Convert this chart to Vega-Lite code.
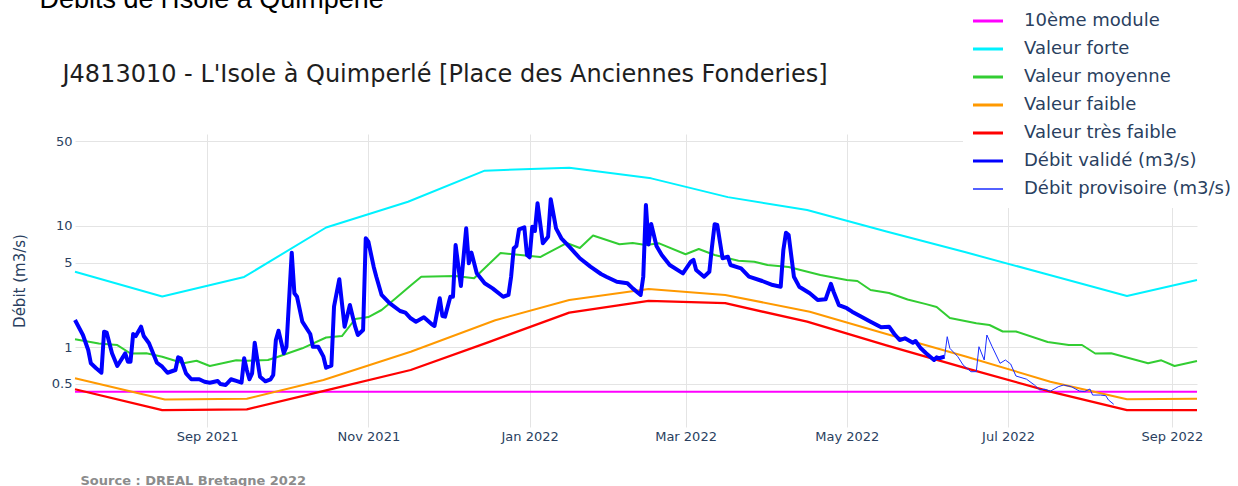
{
  "$schema": "https://vega.github.io/schema/vega-lite/v6.json",
  "width": 1122,
  "height": 293,
  "autosize": {"type": "none"},
  "padding": {"left": 75, "top": 134, "right": 41, "bottom": 59},
  "background": "white",
  "config": {"view": {"stroke": null}, "font": "DejaVu Sans"},
  "datasets": {
    "refs": [
      {"d": "2021-07-13", "v": 0.43, "s": "10ème module"},
      {"d": "2022-09-10T12:00:00Z", "v": 0.43, "s": "10ème module"},
      {"d": "2021-07-13", "v": 4.2, "s": "Valeur forte"},
      {"d": "2021-08-15", "v": 2.62, "s": "Valeur forte"},
      {"d": "2021-09-15", "v": 3.8, "s": "Valeur forte"},
      {"d": "2021-10-16", "v": 9.72, "s": "Valeur forte"},
      {"d": "2021-11-16", "v": 15.86, "s": "Valeur forte"},
      {"d": "2021-12-15", "v": 28.6, "s": "Valeur forte"},
      {"d": "2022-01-16", "v": 30.2, "s": "Valeur forte"},
      {"d": "2022-02-16", "v": 24.7, "s": "Valeur forte"},
      {"d": "2022-03-17", "v": 17.3, "s": "Valeur forte"},
      {"d": "2022-04-16", "v": 13.55, "s": "Valeur forte"},
      {"d": "2022-05-16", "v": 9.01, "s": "Valeur forte"},
      {"d": "2022-06-15", "v": 6.07, "s": "Valeur forte"},
      {"d": "2022-07-15", "v": 4.04, "s": "Valeur forte"},
      {"d": "2022-08-15", "v": 2.65, "s": "Valeur forte"},
      {"d": "2022-09-10T12:00:00Z", "v": 3.59, "s": "Valeur forte"},
      {"d": "2021-07-13", "v": 1.164, "s": "Valeur moyenne"},
      {"d": "2021-07-22", "v": 1.075, "s": "Valeur moyenne"},
      {"d": "2021-07-29", "v": 1.044, "s": "Valeur moyenne"},
      {"d": "2021-08-03", "v": 0.889, "s": "Valeur moyenne"},
      {"d": "2021-08-09", "v": 0.892, "s": "Valeur moyenne"},
      {"d": "2021-08-15", "v": 0.837, "s": "Valeur moyenne"},
      {"d": "2021-08-23", "v": 0.738, "s": "Valeur moyenne"},
      {"d": "2021-08-28", "v": 0.775, "s": "Valeur moyenne"},
      {"d": "2021-09-02", "v": 0.701, "s": "Valeur moyenne"},
      {"d": "2021-09-12", "v": 0.783, "s": "Valeur moyenne"},
      {"d": "2021-09-16", "v": 0.774, "s": "Valeur moyenne"},
      {"d": "2021-09-24", "v": 0.786, "s": "Valeur moyenne"},
      {"d": "2021-09-27", "v": 0.824, "s": "Valeur moyenne"},
      {"d": "2021-10-07", "v": 0.981, "s": "Valeur moyenne"},
      {"d": "2021-10-16", "v": 1.205, "s": "Valeur moyenne"},
      {"d": "2021-10-22", "v": 1.239, "s": "Valeur moyenne"},
      {"d": "2021-10-27", "v": 1.711, "s": "Valeur moyenne"},
      {"d": "2021-11-01", "v": 1.777, "s": "Valeur moyenne"},
      {"d": "2021-11-06", "v": 2.03, "s": "Valeur moyenne"},
      {"d": "2021-11-11", "v": 2.5, "s": "Valeur moyenne"},
      {"d": "2021-11-17", "v": 3.23, "s": "Valeur moyenne"},
      {"d": "2021-11-21", "v": 3.82, "s": "Valeur moyenne"},
      {"d": "2021-12-04", "v": 3.87, "s": "Valeur moyenne"},
      {"d": "2021-12-11", "v": 3.71, "s": "Valeur moyenne"},
      {"d": "2021-12-21", "v": 5.99, "s": "Valeur moyenne"},
      {"d": "2022-01-05", "v": 5.55, "s": "Valeur moyenne"},
      {"d": "2022-01-15", "v": 7.24, "s": "Valeur moyenne"},
      {"d": "2022-01-20", "v": 6.59, "s": "Valeur moyenne"},
      {"d": "2022-01-25", "v": 8.35, "s": "Valeur moyenne"},
      {"d": "2022-02-04", "v": 7.07, "s": "Valeur moyenne"},
      {"d": "2022-02-09", "v": 7.24, "s": "Valeur moyenne"},
      {"d": "2022-02-14", "v": 6.97, "s": "Valeur moyenne"},
      {"d": "2022-02-19", "v": 7.2, "s": "Valeur moyenne"},
      {"d": "2022-03-01", "v": 5.85, "s": "Valeur moyenne"},
      {"d": "2022-03-06", "v": 6.46, "s": "Valeur moyenne"},
      {"d": "2022-03-12", "v": 5.77, "s": "Valeur moyenne"},
      {"d": "2022-03-21", "v": 5.17, "s": "Valeur moyenne"},
      {"d": "2022-03-27", "v": 5.08, "s": "Valeur moyenne"},
      {"d": "2022-04-01", "v": 4.77, "s": "Valeur moyenne"},
      {"d": "2022-04-09", "v": 4.59, "s": "Valeur moyenne"},
      {"d": "2022-04-21", "v": 3.94, "s": "Valeur moyenne"},
      {"d": "2022-05-01", "v": 3.59, "s": "Valeur moyenne"},
      {"d": "2022-05-05", "v": 3.52, "s": "Valeur moyenne"},
      {"d": "2022-05-10", "v": 2.97, "s": "Valeur moyenne"},
      {"d": "2022-05-17", "v": 2.8, "s": "Valeur moyenne"},
      {"d": "2022-05-24", "v": 2.48, "s": "Valeur moyenne"},
      {"d": "2022-05-31", "v": 2.27, "s": "Valeur moyenne"},
      {"d": "2022-06-04", "v": 2.15, "s": "Valeur moyenne"},
      {"d": "2022-06-09", "v": 1.744, "s": "Valeur moyenne"},
      {"d": "2022-06-19", "v": 1.577, "s": "Valeur moyenne"},
      {"d": "2022-06-24", "v": 1.527, "s": "Valeur moyenne"},
      {"d": "2022-06-29", "v": 1.35, "s": "Valeur moyenne"},
      {"d": "2022-07-04", "v": 1.35, "s": "Valeur moyenne"},
      {"d": "2022-07-16", "v": 1.106, "s": "Valeur moyenne"},
      {"d": "2022-07-24", "v": 1.045, "s": "Valeur moyenne"},
      {"d": "2022-07-29", "v": 1.045, "s": "Valeur moyenne"},
      {"d": "2022-08-03", "v": 0.889, "s": "Valeur moyenne"},
      {"d": "2022-08-09", "v": 0.892, "s": "Valeur moyenne"},
      {"d": "2022-08-23", "v": 0.738, "s": "Valeur moyenne"},
      {"d": "2022-08-28", "v": 0.781, "s": "Valeur moyenne"},
      {"d": "2022-09-02", "v": 0.701, "s": "Valeur moyenne"},
      {"d": "2022-09-10T12:00:00Z", "v": 0.771, "s": "Valeur moyenne"},
      {"d": "2021-07-13", "v": 0.555, "s": "Valeur faible"},
      {"d": "2021-08-16", "v": 0.371, "s": "Valeur faible"},
      {"d": "2021-09-16", "v": 0.376, "s": "Valeur faible"},
      {"d": "2021-10-15", "v": 0.538, "s": "Valeur faible"},
      {"d": "2021-11-17", "v": 0.92, "s": "Valeur faible"},
      {"d": "2021-12-19", "v": 1.67, "s": "Valeur faible"},
      {"d": "2022-01-16", "v": 2.455, "s": "Valeur faible"},
      {"d": "2022-02-15", "v": 3.02, "s": "Valeur faible"},
      {"d": "2022-03-16", "v": 2.7, "s": "Valeur faible"},
      {"d": "2022-04-17", "v": 1.966, "s": "Valeur faible"},
      {"d": "2022-05-16", "v": 1.287, "s": "Valeur faible"},
      {"d": "2022-06-15", "v": 0.841, "s": "Valeur faible"},
      {"d": "2022-07-17", "v": 0.52, "s": "Valeur faible"},
      {"d": "2022-08-15", "v": 0.373, "s": "Valeur faible"},
      {"d": "2022-09-10T12:00:00Z", "v": 0.377, "s": "Valeur faible"},
      {"d": "2021-07-13", "v": 0.451, "s": "Valeur très faible"},
      {"d": "2021-08-15", "v": 0.304, "s": "Valeur très faible"},
      {"d": "2021-09-16", "v": 0.308, "s": "Valeur très faible"},
      {"d": "2021-10-16", "v": 0.442, "s": "Valeur très faible"},
      {"d": "2021-11-17", "v": 0.65, "s": "Valeur très faible"},
      {"d": "2021-12-16", "v": 1.093, "s": "Valeur très faible"},
      {"d": "2022-01-16", "v": 1.929, "s": "Valeur très faible"},
      {"d": "2022-02-15", "v": 2.41, "s": "Valeur très faible"},
      {"d": "2022-03-16", "v": 2.31, "s": "Valeur très faible"},
      {"d": "2022-04-16", "v": 1.626, "s": "Valeur très faible"},
      {"d": "2022-05-16", "v": 1.039, "s": "Valeur très faible"},
      {"d": "2022-06-15", "v": 0.674, "s": "Valeur très faible"},
      {"d": "2022-07-17", "v": 0.431, "s": "Valeur très faible"},
      {"d": "2022-08-15", "v": 0.304, "s": "Valeur très faible"},
      {"d": "2022-09-10T12:00:00Z", "v": 0.304, "s": "Valeur très faible"}
    ],
    "flows": [
      {"d": "2021-07-13", "v": 1.679, "s": "Débit validé (m3/s)"},
      {"d": "2021-07-16", "v": 1.263, "s": "Débit validé (m3/s)"},
      {"d": "2021-07-18", "v": 0.95, "s": "Débit validé (m3/s)"},
      {"d": "2021-07-19", "v": 0.738, "s": "Débit validé (m3/s)"},
      {"d": "2021-07-21", "v": 0.671, "s": "Débit validé (m3/s)"},
      {"d": "2021-07-23", "v": 0.617, "s": "Débit validé (m3/s)"},
      {"d": "2021-07-24", "v": 1.345, "s": "Débit validé (m3/s)"},
      {"d": "2021-07-25", "v": 1.319, "s": "Débit validé (m3/s)"},
      {"d": "2021-07-27", "v": 0.892, "s": "Débit validé (m3/s)"},
      {"d": "2021-07-29", "v": 0.701, "s": "Débit validé (m3/s)"},
      {"d": "2021-08-01", "v": 0.892, "s": "Débit validé (m3/s)"},
      {"d": "2021-08-02", "v": 0.761, "s": "Débit validé (m3/s)"},
      {"d": "2021-08-03", "v": 0.761, "s": "Débit validé (m3/s)"},
      {"d": "2021-08-04", "v": 1.287, "s": "Débit validé (m3/s)"},
      {"d": "2021-08-05", "v": 1.239, "s": "Débit validé (m3/s)"},
      {"d": "2021-08-07", "v": 1.479, "s": "Débit validé (m3/s)"},
      {"d": "2021-08-08", "v": 1.239, "s": "Débit validé (m3/s)"},
      {"d": "2021-08-10", "v": 1.079, "s": "Débit validé (m3/s)"},
      {"d": "2021-08-13", "v": 0.746, "s": "Débit validé (m3/s)"},
      {"d": "2021-08-15", "v": 0.692, "s": "Débit validé (m3/s)"},
      {"d": "2021-08-17", "v": 0.617, "s": "Débit validé (m3/s)"},
      {"d": "2021-08-20", "v": 0.65, "s": "Débit validé (m3/s)"},
      {"d": "2021-08-21", "v": 0.827, "s": "Débit validé (m3/s)"},
      {"d": "2021-08-22", "v": 0.812, "s": "Débit validé (m3/s)"},
      {"d": "2021-08-24", "v": 0.61, "s": "Débit validé (m3/s)"},
      {"d": "2021-08-26", "v": 0.545, "s": "Débit validé (m3/s)"},
      {"d": "2021-08-29", "v": 0.545, "s": "Débit validé (m3/s)"},
      {"d": "2021-08-31", "v": 0.52, "s": "Débit validé (m3/s)"},
      {"d": "2021-09-02", "v": 0.511, "s": "Débit validé (m3/s)"},
      {"d": "2021-09-05", "v": 0.528, "s": "Débit validé (m3/s)"},
      {"d": "2021-09-06", "v": 0.498, "s": "Débit validé (m3/s)"},
      {"d": "2021-09-08", "v": 0.489, "s": "Débit validé (m3/s)"},
      {"d": "2021-09-10", "v": 0.545, "s": "Débit validé (m3/s)"},
      {"d": "2021-09-12", "v": 0.528, "s": "Débit validé (m3/s)"},
      {"d": "2021-09-14", "v": 0.511, "s": "Débit validé (m3/s)"},
      {"d": "2021-09-15", "v": 0.812, "s": "Débit validé (m3/s)"},
      {"d": "2021-09-16", "v": 0.65, "s": "Débit validé (m3/s)"},
      {"d": "2021-09-17", "v": 0.545, "s": "Débit validé (m3/s)"},
      {"d": "2021-09-18", "v": 0.61, "s": "Débit validé (m3/s)"},
      {"d": "2021-09-19", "v": 1.091, "s": "Débit validé (m3/s)"},
      {"d": "2021-09-20", "v": 0.786, "s": "Débit validé (m3/s)"},
      {"d": "2021-09-21", "v": 0.572, "s": "Débit validé (m3/s)"},
      {"d": "2021-09-23", "v": 0.524, "s": "Débit validé (m3/s)"},
      {"d": "2021-09-25", "v": 0.545, "s": "Débit validé (m3/s)"},
      {"d": "2021-09-26", "v": 0.592, "s": "Débit validé (m3/s)"},
      {"d": "2021-09-27", "v": 1.149, "s": "Débit validé (m3/s)"},
      {"d": "2021-09-28", "v": 1.37, "s": "Débit validé (m3/s)"},
      {"d": "2021-09-30", "v": 0.892, "s": "Débit validé (m3/s)"},
      {"d": "2021-10-01", "v": 1.011, "s": "Débit validé (m3/s)"},
      {"d": "2021-10-03", "v": 6.03, "s": "Débit validé (m3/s)"},
      {"d": "2021-10-04", "v": 2.79, "s": "Débit validé (m3/s)"},
      {"d": "2021-10-05", "v": 2.61, "s": "Débit validé (m3/s)"},
      {"d": "2021-10-07", "v": 1.626, "s": "Débit validé (m3/s)"},
      {"d": "2021-10-10", "v": 1.287, "s": "Débit validé (m3/s)"},
      {"d": "2021-10-11", "v": 1.011, "s": "Débit validé (m3/s)"},
      {"d": "2021-10-13", "v": 1.011, "s": "Débit validé (m3/s)"},
      {"d": "2021-10-15", "v": 0.837, "s": "Débit validé (m3/s)"},
      {"d": "2021-10-16", "v": 0.679, "s": "Débit validé (m3/s)"},
      {"d": "2021-10-18", "v": 0.705, "s": "Débit validé (m3/s)"},
      {"d": "2021-10-19", "v": 2.16, "s": "Débit validé (m3/s)"},
      {"d": "2021-10-21", "v": 3.64, "s": "Débit validé (m3/s)"},
      {"d": "2021-10-22", "v": 2.31, "s": "Débit validé (m3/s)"},
      {"d": "2021-10-23", "v": 1.479, "s": "Débit validé (m3/s)"},
      {"d": "2021-10-25", "v": 2.23, "s": "Débit validé (m3/s)"},
      {"d": "2021-10-27", "v": 1.479, "s": "Débit validé (m3/s)"},
      {"d": "2021-10-28", "v": 1.263, "s": "Débit validé (m3/s)"},
      {"d": "2021-10-30", "v": 1.389, "s": "Débit validé (m3/s)"},
      {"d": "2021-10-31", "v": 7.92, "s": "Débit validé (m3/s)"},
      {"d": "2021-11-01", "v": 7.42, "s": "Débit validé (m3/s)"},
      {"d": "2021-11-03", "v": 4.62, "s": "Débit validé (m3/s)"},
      {"d": "2021-11-04", "v": 3.82, "s": "Débit validé (m3/s)"},
      {"d": "2021-11-06", "v": 2.7, "s": "Débit validé (m3/s)"},
      {"d": "2021-11-09", "v": 2.31, "s": "Débit validé (m3/s)"},
      {"d": "2021-11-13", "v": 1.992, "s": "Débit validé (m3/s)"},
      {"d": "2021-11-15", "v": 1.929, "s": "Débit validé (m3/s)"},
      {"d": "2021-11-17", "v": 1.734, "s": "Débit validé (m3/s)"},
      {"d": "2021-11-19", "v": 1.626, "s": "Débit validé (m3/s)"},
      {"d": "2021-11-22", "v": 1.767, "s": "Débit validé (m3/s)"},
      {"d": "2021-11-25", "v": 1.547, "s": "Débit validé (m3/s)"},
      {"d": "2021-11-26", "v": 1.498, "s": "Débit validé (m3/s)"},
      {"d": "2021-11-28", "v": 2.535, "s": "Débit validé (m3/s)"},
      {"d": "2021-11-29", "v": 1.811, "s": "Débit validé (m3/s)"},
      {"d": "2021-11-30", "v": 1.79, "s": "Débit validé (m3/s)"},
      {"d": "2021-12-02", "v": 2.61, "s": "Débit validé (m3/s)"},
      {"d": "2021-12-03", "v": 2.61, "s": "Débit validé (m3/s)"},
      {"d": "2021-12-04", "v": 6.97, "s": "Débit validé (m3/s)"},
      {"d": "2021-12-06", "v": 3.2, "s": "Débit validé (m3/s)"},
      {"d": "2021-12-08", "v": 9.57, "s": "Débit validé (m3/s)"},
      {"d": "2021-12-09", "v": 4.93, "s": "Débit validé (m3/s)"},
      {"d": "2021-12-10", "v": 6.03, "s": "Débit validé (m3/s)"},
      {"d": "2021-12-12", "v": 4.07, "s": "Débit validé (m3/s)"},
      {"d": "2021-12-15", "v": 3.37, "s": "Débit validé (m3/s)"},
      {"d": "2021-12-18", "v": 3.06, "s": "Débit validé (m3/s)"},
      {"d": "2021-12-22", "v": 2.61, "s": "Débit validé (m3/s)"},
      {"d": "2021-12-24", "v": 2.7, "s": "Débit validé (m3/s)"},
      {"d": "2021-12-25", "v": 3.82, "s": "Débit validé (m3/s)"},
      {"d": "2021-12-26", "v": 6.55, "s": "Débit validé (m3/s)"},
      {"d": "2021-12-27", "v": 6.84, "s": "Débit validé (m3/s)"},
      {"d": "2021-12-28", "v": 9.39, "s": "Débit validé (m3/s)"},
      {"d": "2021-12-30", "v": 9.76, "s": "Débit validé (m3/s)"},
      {"d": "2021-12-31", "v": 5.77, "s": "Débit validé (m3/s)"},
      {"d": "2022-01-01", "v": 5.52, "s": "Débit validé (m3/s)"},
      {"d": "2022-01-02", "v": 9.87, "s": "Débit validé (m3/s)"},
      {"d": "2022-01-03", "v": 9.09, "s": "Débit validé (m3/s)"},
      {"d": "2022-01-04", "v": 15.39, "s": "Débit validé (m3/s)"},
      {"d": "2022-01-06", "v": 7.2, "s": "Débit validé (m3/s)"},
      {"d": "2022-01-08", "v": 8.16, "s": "Débit validé (m3/s)"},
      {"d": "2022-01-09", "v": 16.61, "s": "Débit validé (m3/s)"},
      {"d": "2022-01-11", "v": 9.57, "s": "Débit validé (m3/s)"},
      {"d": "2022-01-13", "v": 7.92, "s": "Débit validé (m3/s)"},
      {"d": "2022-01-16", "v": 6.75, "s": "Débit validé (m3/s)"},
      {"d": "2022-01-20", "v": 5.42, "s": "Débit validé (m3/s)"},
      {"d": "2022-01-24", "v": 4.62, "s": "Débit validé (m3/s)"},
      {"d": "2022-01-28", "v": 4.02, "s": "Débit validé (m3/s)"},
      {"d": "2022-01-30", "v": 3.82, "s": "Débit validé (m3/s)"},
      {"d": "2022-02-03", "v": 3.47, "s": "Débit validé (m3/s)"},
      {"d": "2022-02-07", "v": 3.37, "s": "Débit validé (m3/s)"},
      {"d": "2022-02-09", "v": 3.06, "s": "Débit validé (m3/s)"},
      {"d": "2022-02-12", "v": 2.7, "s": "Débit validé (m3/s)"},
      {"d": "2022-02-13", "v": 3.82, "s": "Débit validé (m3/s)"},
      {"d": "2022-02-14", "v": 14.9, "s": "Débit validé (m3/s)"},
      {"d": "2022-02-15", "v": 7.04, "s": "Débit validé (m3/s)"},
      {"d": "2022-02-16", "v": 10.39, "s": "Débit validé (m3/s)"},
      {"d": "2022-02-18", "v": 6.84, "s": "Débit validé (m3/s)"},
      {"d": "2022-02-20", "v": 5.77, "s": "Débit validé (m3/s)"},
      {"d": "2022-02-23", "v": 4.77, "s": "Débit validé (m3/s)"},
      {"d": "2022-02-28", "v": 4.07, "s": "Débit validé (m3/s)"},
      {"d": "2022-03-03", "v": 5.08, "s": "Débit validé (m3/s)"},
      {"d": "2022-03-04", "v": 5.25, "s": "Débit validé (m3/s)"},
      {"d": "2022-03-05", "v": 4.34, "s": "Débit validé (m3/s)"},
      {"d": "2022-03-08", "v": 3.82, "s": "Débit validé (m3/s)"},
      {"d": "2022-03-10", "v": 4.2, "s": "Débit validé (m3/s)"},
      {"d": "2022-03-11", "v": 6.75, "s": "Débit validé (m3/s)"},
      {"d": "2022-03-12", "v": 10.33, "s": "Débit validé (m3/s)"},
      {"d": "2022-03-13", "v": 10.19, "s": "Débit validé (m3/s)"},
      {"d": "2022-03-15", "v": 5.42, "s": "Débit validé (m3/s)"},
      {"d": "2022-03-17", "v": 5.58, "s": "Débit validé (m3/s)"},
      {"d": "2022-03-18", "v": 4.77, "s": "Débit validé (m3/s)"},
      {"d": "2022-03-22", "v": 4.48, "s": "Débit validé (m3/s)"},
      {"d": "2022-03-25", "v": 3.82, "s": "Débit validé (m3/s)"},
      {"d": "2022-03-30", "v": 3.52, "s": "Débit validé (m3/s)"},
      {"d": "2022-04-03", "v": 3.26, "s": "Débit validé (m3/s)"},
      {"d": "2022-04-06", "v": 3.16, "s": "Débit validé (m3/s)"},
      {"d": "2022-04-07", "v": 6.34, "s": "Débit validé (m3/s)"},
      {"d": "2022-04-08", "v": 8.81, "s": "Débit validé (m3/s)"},
      {"d": "2022-04-09", "v": 8.43, "s": "Débit validé (m3/s)"},
      {"d": "2022-04-11", "v": 3.82, "s": "Débit validé (m3/s)"},
      {"d": "2022-04-13", "v": 3.16, "s": "Débit validé (m3/s)"},
      {"d": "2022-04-17", "v": 2.79, "s": "Débit validé (m3/s)"},
      {"d": "2022-04-20", "v": 2.455, "s": "Débit validé (m3/s)"},
      {"d": "2022-04-23", "v": 2.49, "s": "Débit validé (m3/s)"},
      {"d": "2022-04-25", "v": 3.33, "s": "Débit validé (m3/s)"},
      {"d": "2022-04-26", "v": 2.87, "s": "Débit validé (m3/s)"},
      {"d": "2022-04-28", "v": 2.23, "s": "Débit validé (m3/s)"},
      {"d": "2022-05-01", "v": 2.1, "s": "Débit validé (m3/s)"},
      {"d": "2022-05-03", "v": 1.966, "s": "Débit validé (m3/s)"},
      {"d": "2022-05-06", "v": 1.811, "s": "Débit validé (m3/s)"},
      {"d": "2022-05-10", "v": 1.626, "s": "Débit validé (m3/s)"},
      {"d": "2022-05-14", "v": 1.462, "s": "Débit validé (m3/s)"},
      {"d": "2022-05-17", "v": 1.479, "s": "Débit validé (m3/s)"},
      {"d": "2022-05-19", "v": 1.287, "s": "Débit validé (m3/s)"},
      {"d": "2022-05-21", "v": 1.149, "s": "Débit validé (m3/s)"},
      {"d": "2022-05-23", "v": 1.186, "s": "Débit validé (m3/s)"},
      {"d": "2022-05-26", "v": 1.091, "s": "Débit validé (m3/s)"},
      {"d": "2022-05-27", "v": 1.127, "s": "Débit validé (m3/s)"},
      {"d": "2022-05-29", "v": 0.981, "s": "Débit validé (m3/s)"},
      {"d": "2022-05-31", "v": 0.892, "s": "Débit validé (m3/s)"},
      {"d": "2022-06-03", "v": 0.786, "s": "Débit validé (m3/s)"},
      {"d": "2022-06-04", "v": 0.827, "s": "Débit validé (m3/s)"},
      {"d": "2022-06-05", "v": 0.812, "s": "Débit validé (m3/s)"},
      {"d": "2022-06-07", "v": 0.837, "s": "Débit validé (m3/s)"},
      {"d": "2022-06-07", "v": 0.837, "s": "Débit provisoire (m3/s)"},
      {"d": "2022-06-08", "v": 1.223, "s": "Débit provisoire (m3/s)"},
      {"d": "2022-06-09", "v": 0.981, "s": "Débit provisoire (m3/s)"},
      {"d": "2022-06-12", "v": 0.837, "s": "Débit provisoire (m3/s)"},
      {"d": "2022-06-14", "v": 0.715, "s": "Débit provisoire (m3/s)"},
      {"d": "2022-06-17", "v": 0.629, "s": "Débit provisoire (m3/s)"},
      {"d": "2022-06-19", "v": 0.63, "s": "Débit provisoire (m3/s)"},
      {"d": "2022-06-20", "v": 1.011, "s": "Débit provisoire (m3/s)"},
      {"d": "2022-06-22", "v": 0.786, "s": "Débit provisoire (m3/s)"},
      {"d": "2022-06-23", "v": 1.263, "s": "Débit provisoire (m3/s)"},
      {"d": "2022-06-25", "v": 1.011, "s": "Débit provisoire (m3/s)"},
      {"d": "2022-06-28", "v": 0.738, "s": "Débit provisoire (m3/s)"},
      {"d": "2022-06-30", "v": 0.786, "s": "Débit provisoire (m3/s)"},
      {"d": "2022-07-02", "v": 0.728, "s": "Débit provisoire (m3/s)"},
      {"d": "2022-07-04", "v": 0.58, "s": "Débit provisoire (m3/s)"},
      {"d": "2022-07-08", "v": 0.546, "s": "Débit provisoire (m3/s)"},
      {"d": "2022-07-11", "v": 0.489, "s": "Débit provisoire (m3/s)"},
      {"d": "2022-07-13", "v": 0.445, "s": "Débit provisoire (m3/s)"},
      {"d": "2022-07-15", "v": 0.451, "s": "Débit provisoire (m3/s)"},
      {"d": "2022-07-17", "v": 0.434, "s": "Débit provisoire (m3/s)"},
      {"d": "2022-07-20", "v": 0.473, "s": "Débit provisoire (m3/s)"},
      {"d": "2022-07-22", "v": 0.489, "s": "Débit provisoire (m3/s)"},
      {"d": "2022-07-25", "v": 0.473, "s": "Débit provisoire (m3/s)"},
      {"d": "2022-07-28", "v": 0.436, "s": "Débit provisoire (m3/s)"},
      {"d": "2022-07-30", "v": 0.432, "s": "Débit provisoire (m3/s)"},
      {"d": "2022-08-01", "v": 0.453, "s": "Débit provisoire (m3/s)"},
      {"d": "2022-08-02", "v": 0.404, "s": "Débit provisoire (m3/s)"},
      {"d": "2022-08-05", "v": 0.404, "s": "Débit provisoire (m3/s)"},
      {"d": "2022-08-07", "v": 0.399, "s": "Débit provisoire (m3/s)"},
      {"d": "2022-08-08", "v": 0.368, "s": "Débit provisoire (m3/s)"},
      {"d": "2022-08-10", "v": 0.339, "s": "Débit provisoire (m3/s)"}
    ]
  },
  "layer": [
    {
      "data": {"name": "refs"},
      "mark": {"type": "line", "strokeJoin": "round"},
      "encoding": {
        "x": {
          "field": "d", "type": "temporal",
          "scale": {"type": "utc", "domain": [{"year": 2021, "month": 7, "date": 13, "utc": true}, {"year": 2022, "month": 9, "date": 10, "hours": 12, "utc": true}]},
          "axis": {
            "orient": "bottom",
            "values": [
              {"year": 2021, "month": 9, "date": 1, "utc": true},
              {"year": 2021, "month": 11, "date": 1, "utc": true},
              {"year": 2022, "month": 1, "date": 1, "utc": true},
              {"year": 2022, "month": 3, "date": 1, "utc": true},
              {"year": 2022, "month": 5, "date": 1, "utc": true},
              {"year": 2022, "month": 7, "date": 1, "utc": true},
              {"year": 2022, "month": 9, "date": 1, "utc": true}
            ],
            "format": "%b %Y",
            "domain": false, "ticks": false, "tickSize": 0,
            "grid": true, "gridColor": "#e4e4e4", "gridWidth": 1,
            "labelFont": "DejaVu Sans", "labelFontSize": 13, "labelColor": "#2a3f5f", "labelPadding": 3, "labelFlush": false,
            "title": "Source : DREAL Bretagne 2022",
            "titleX": 5, "titleY": 57, "titleAlign": "left", "titleBaseline": "alphabetic",
            "titleFont": "DejaVu Sans", "titleFontSize": 13, "titleFontWeight": "bold", "titleColor": "#8c8c8c"
          }
        },
        "y": {
          "field": "v", "type": "quantitative",
          "scale": {"type": "log", "domain": [0.2203, 57.33], "nice": false},
          "axis": {
            "orient": "left",
            "values": [0.5, 1, 5, 10, 50],
            "domain": false, "ticks": false, "tickSize": 0,
            "grid": true, "gridColor": "#e4e4e4", "gridWidth": 1,
            "labelFont": "DejaVu Sans", "labelFontSize": 13, "labelColor": "#2a3f5f", "labelPadding": 3,
            "title": "Débit (m3/s)",
            "titleX": -56, "titleY": 146.5, "titleAngle": -90, "titleAlign": "center", "titleBaseline": "middle",
            "titleFont": "DejaVu Sans", "titleFontSize": 15, "titleFontWeight": "normal", "titleColor": "#2a3f5f"
          }
        },
        "color": {
          "field": "s", "type": "nominal",
          "scale": {
            "domain": ["10ème module", "Valeur forte", "Valeur moyenne", "Valeur faible", "Valeur très faible", "Débit validé (m3/s)", "Débit provisoire (m3/s)"],
            "range": ["#ff00ff", "#00f2ff", "#32cd32", "#ff9900", "#ff0000", "#0000ff", "#1a2cff"]
          },
          "legend": {
            "orient": "none", "legendX": 888, "legendY": -132, "title": null,
            "symbolType": "stroke", "symbolSize": 1764, "symbolStrokeWidth": 3, "clipHeight": 18, "rowPadding": 10,
            "labelFont": "DejaVu Sans", "labelFontSize": 18, "labelColor": "#2a3f5f", "labelOffset": 33, "labelLimit": 400,
            "padding": 10, "fillColor": "white", "symbolOpacity": 1,
            "encode": {"symbols": {"update": {"strokeWidth": {"signal": "datum.value === 'Débit provisoire (m3/s)' ? 1.5 : 3"}}}}
          }
        },
        "strokeWidth": {
          "field": "s", "type": "nominal",
          "scale": {
            "type": "ordinal",
            "domain": ["10ème module", "Valeur forte", "Valeur moyenne", "Valeur faible", "Valeur très faible", "Débit validé (m3/s)", "Débit provisoire (m3/s)"],
            "range": [2, 2, 2, 2, 2.3, 2.4, 1.1]
          },
          "legend": null
        }
      }
    },
    {
      "data": {"name": "flows"},
      "mark": {"type": "line", "strokeJoin": "round"},
      "encoding": {
        "x": {
          "field": "d", "type": "temporal",
          "axis": {
            "orient": "top", "labels": false, "domain": false, "ticks": false, "grid": false,
            "title": "J4813010 - L'Isole à Quimperlé [Place des Anciennes Fonderies]",
            "titleX": -13, "titleY": -52.5, "titleAlign": "left", "titleBaseline": "alphabetic", "titleAngle": 0,
            "titleFont": "DejaVu Sans", "titleFontSize": 24, "titleFontWeight": "normal", "titleColor": "#1e1e1e"
          }
        },
        "y": {
          "field": "v", "type": "quantitative",
          "axis": {
            "orient": "right", "labels": false, "domain": false, "ticks": false, "grid": false,
            "title": "Débits de l'Isole à Quimperlé",
            "titleX": -1158, "titleY": -127, "titleAngle": 0, "titleAlign": "left", "titleBaseline": "alphabetic",
            "titleFont": "Liberation Sans", "titleFontSize": 27, "titleFontWeight": "normal", "titleColor": "#000000"
          }
        },
        "color": {
          "field": "s", "type": "nominal",
          "legend": {
            "orient": "none", "legendX": 888, "legendY": -132, "title": null,
            "symbolType": "stroke", "symbolSize": 1764, "symbolStrokeWidth": 3, "clipHeight": 18, "rowPadding": 10,
            "labelFont": "DejaVu Sans", "labelFontSize": 18, "labelColor": "#2a3f5f", "labelOffset": 33, "labelLimit": 400,
            "padding": 10, "fillColor": "white", "symbolOpacity": 1,
            "encode": {"symbols": {"update": {"strokeWidth": {"signal": "datum.value === 'Débit provisoire (m3/s)' ? 1.5 : 3"}}}}
          }
        },
        "strokeWidth": {"field": "s", "type": "nominal", "legend": null}
      }
    }
  ]
}
